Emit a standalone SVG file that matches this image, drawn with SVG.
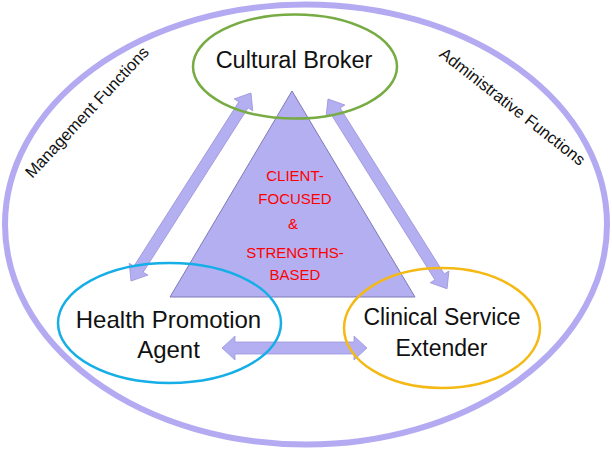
<svg xmlns="http://www.w3.org/2000/svg" width="612" height="450" viewBox="0 0 612 450">
<style>
.lbl{font-family:"Liberation Sans",Arial,sans-serif;fill:#111;text-anchor:middle}
.core{font-family:"Liberation Sans",Arial,sans-serif;fill:#ff0000;text-anchor:middle;font-size:15px}
.arrow{fill:#b4aff0;stroke:#9c97dc;stroke-width:0.8}
.node{fill:none;stroke-width:2.5}
</style>
<rect width="612" height="450" fill="#fff"/>
<g id="frame">
<ellipse cx="306" cy="224.5" rx="301" ry="220" fill="none" stroke="#b4aaf2" stroke-width="6"/>
<text class="lbl" font-size="16.5" transform="translate(91,116) rotate(-47)">Management Functions</text>
<text class="lbl" font-size="16.5" transform="translate(509,111) rotate(38)">Administrative Functions</text>
</g>
<g id="core">
<polygon points="292,91 170,297 415,297" fill="#b4aff0" stroke="#7e79b8" stroke-width="1"/>
<text class="core" x="295" y="181">CLIENT-</text>
<text class="core" x="295" y="204">FOCUSED</text>
<text class="core" x="293" y="229" font-size="8">&amp;</text>
<text class="core" x="295" y="258">STRENGTHS-</text>
<text class="core" x="295" y="280">BASED</text>
</g>
<g id="connectors">
<path class="arrow" transform="translate(131,281) rotate(-57.45)" d="M0,0 L14,-11 L14,-5.5 L209,-5.5 L209,-11 L223,0 L209,11 L209,5.5 L14,5.5 L14,11 Z"/>
<path class="arrow" transform="translate(328,99) rotate(57.9)" d="M0,0 L14,-11 L14,-5.5 L210,-5.5 L210,-11 L224,0 L210,11 L210,5.5 L14,5.5 L14,11 Z"/>
<path class="arrow" transform="translate(222,348)" d="M0,0 L13,-12 L13,-6 L132,-6 L132,-12 L145,0 L132,12 L132,6 L13,6 L13,12 Z"/>
</g>
<g id="cultural-broker">
<ellipse class="node" cx="295" cy="66.5" rx="102" ry="52" stroke="#77ab43"/>
<text class="lbl" x="294" y="68" font-size="23.5">Cultural Broker</text>
</g>
<g id="health-promotion-agent">
<ellipse class="node" cx="169.5" cy="323" rx="111.5" ry="60" stroke="#16aee6"/>
<text class="lbl" x="168.5" y="328" font-size="24">Health Promotion</text>
<text class="lbl" x="168.5" y="358" font-size="24">Agent</text>
</g>
<g id="clinical-service-extender">
<ellipse class="node" cx="442" cy="328" rx="98" ry="60" stroke="#f5b915"/>
<text class="lbl" x="442" y="325" font-size="23">Clinical Service</text>
<text class="lbl" x="441.5" y="356" font-size="23">Extender</text>
</g>
</svg>
